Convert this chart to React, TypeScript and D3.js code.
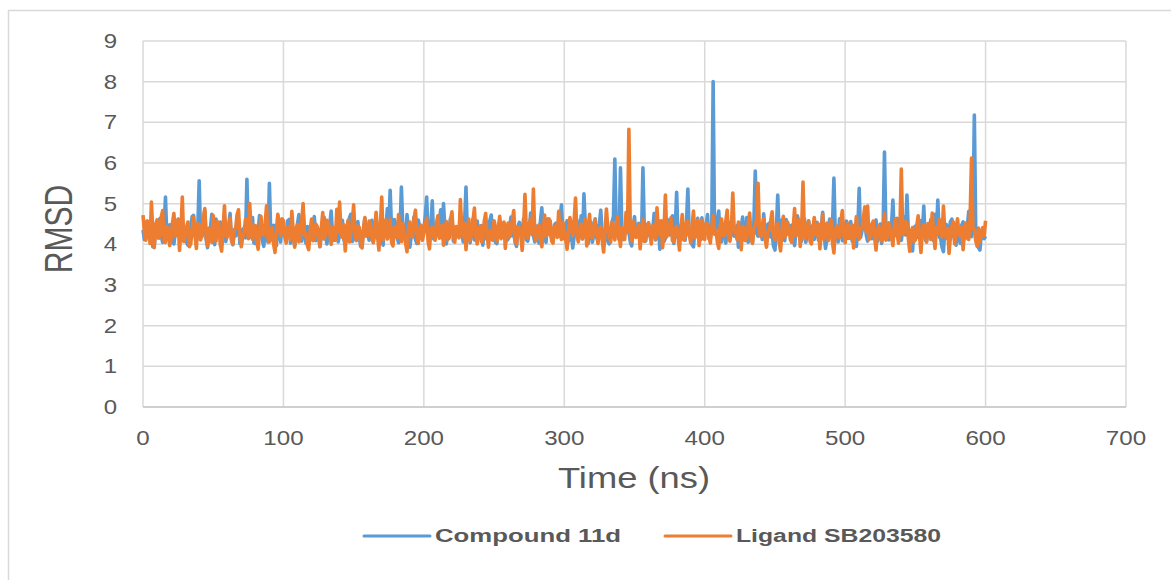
import React from "react";
import * as d3 from "d3";

// RMSD samples every 1 ns, 0..600 ns
const stepNs = 1;

const compound11d = [
  4.35, 4.12, 4.52, 4.27, 4.18, 4.46, 4.41, 3.94, 3.96, 4.33, 4.28, 4.57, 4.63, 4.2, 4.05, 4.39, 5.16, 4.14, 4.22, 4.48,
  4.47, 4.09, 4.01, 4.31, 4.36, 4.62, 4.58, 4.17, 4.12, 4.43, 4.29, 4.05, 3.98, 4.26, 4.44, 4.68, 4.71, 4.23, 4.08, 4.36,
  5.56, 4.21, 4.19, 4.53, 4.83, 4.11, 3.92, 4.3, 4.38, 4.74, 4.15, 3.99, 4.62, 4.34, 4.27, 4.55, 4.04, 4.19, 4.49, 4.07,
  4.31, 4.45, 4.76, 4.13, 3.99, 4.28, 4.21, 4.6, 4.55, 4.02, 4.09, 4.37, 4.4, 4.16, 5.6, 4.25, 4.17, 4.51, 4.66, 4.03,
  4.02, 4.39, 4.34, 4.71, 4.57, 4.1, 3.95, 4.32, 4.25, 4.06, 5.5, 4.22, 4.11, 4.47, 4.45, 3.97, 4.7, 4.29, 4.06, 4.54,
  4.39, 4.18, 4.14, 4.58, 4.61, 4.03, 4.23, 4.41, 3.97, 4.26, 4.5, 4.73, 4.3, 4.08, 4.79, 4.35, 4.03, 4.44, 4.42, 4.15,
  4.16, 4.52, 4.68, 4.09, 4.26, 4.37, 3.94, 4.21, 4.53, 4.66, 4.2, 4.01, 4.37, 4.48, 4.82, 4.19, 4.1, 4.33, 4.46, 4.06,
  4.24, 4.51, 4.59, 4.12, 4.0, 4.38, 4.33, 4.65, 4.74, 4.07, 4.13, 4.29, 4.48, 4.56, 4.19, 3.95, 3.96, 4.34, 4.64, 4.22,
  4.28, 4.1, 4.43, 4.59, 4.07, 4.31, 4.69, 4.14, 4.32, 4.49, 4.15, 3.98, 4.56, 4.4, 4.88, 4.24, 5.33, 4.36, 4.21, 4.61,
  4.51, 4.17, 4.04, 4.28, 5.41, 4.45, 4.26, 4.09, 4.73, 4.35, 3.93, 4.2, 4.4, 4.67, 4.12, 4.02, 4.6, 4.43, 4.18, 4.3,
  4.35, 4.71, 5.16, 4.22, 4.09, 4.47, 5.07, 4.13, 4.47, 4.3, 4.22, 4.58, 4.85, 4.16, 5.0, 4.37, 4.01, 4.25, 4.38, 4.64,
  4.65, 4.08, 4.14, 4.42, 4.29, 4.19, 4.8, 4.34, 4.06, 4.53, 5.41, 4.27, 4.23, 4.04, 4.44, 4.62, 4.11, 4.35, 4.57, 4.18,
  4.27, 4.46, 3.98, 4.33, 4.49, 4.12, 4.16, 4.59, 4.72, 4.25, 4.34, 4.05, 4.02, 4.38, 4.61, 4.17, 4.25, 4.52, 4.41, 4.09,
  4.13, 4.36, 4.67, 4.21, 4.3, 4.04, 3.95, 4.44, 4.54, 4.26, 4.19, 4.63, 4.38, 4.11, 4.08, 4.29, 4.77, 4.4, 4.22, 4.06,
  4.45, 4.18, 4.03, 4.57, 4.9, 4.32, 4.18, 4.05, 4.62, 4.39, 4.27, 4.14, 4.09, 4.48, 4.52, 4.2, 4.35, 4.66, 4.97, 4.24,
  4.14, 4.41, 4.58, 4.07, 4.24, 4.36, 3.91, 4.19, 4.47, 4.6, 4.11, 4.28, 4.7, 4.13, 5.24, 4.45, 4.2, 4.02, 4.36, 4.55,
  4.05, 4.27, 4.63, 4.16, 4.29, 4.5, 4.84, 4.21, 4.17, 4.34, 4.42, 4.08, 4.01, 4.39, 4.55, 4.68, 6.1, 4.31, 4.26, 4.12,
  5.88, 4.37, 4.12, 4.24, 4.49, 4.63, 4.32, 4.06, 3.96, 4.41, 4.68, 4.19, 4.21, 4.52, 4.4, 4.15, 5.88, 4.33, 4.08, 4.47,
  4.53, 4.2, 4.19, 4.35, 4.76, 4.11, 4.28, 4.58, 3.88, 4.26, 4.44, 4.07, 4.15, 4.49, 4.6, 4.23, 4.33, 4.7, 4.02, 4.38,
  5.28, 4.16, 4.25, 4.43, 4.57, 4.29, 4.1, 4.54, 5.36, 4.21, 4.38, 3.99, 3.94, 4.35, 4.47, 4.64, 4.22, 4.11, 4.65, 4.3,
  4.31, 4.48, 4.73, 4.14, 4.18, 4.36, 8.0, 4.25, 4.36, 4.59, 4.82, 4.17, 4.06, 4.41, 4.5, 4.03, 4.27, 4.55, 4.14, 4.32,
  4.59, 4.2, 4.23, 4.46, 3.93, 4.31, 4.43, 4.67, 4.11, 4.24, 4.66, 4.05, 4.3, 4.38, 4.04, 4.53, 5.8, 4.28, 4.2, 4.42,
  4.39, 4.12, 4.75, 4.26, 4.07, 4.49, 4.52, 4.18, 4.26, 3.96, 3.86, 4.35, 5.21, 4.23, 4.34, 4.6, 4.13, 4.09, 4.61, 4.37,
  4.24, 4.44, 4.47, 4.15, 3.97, 4.32, 4.7, 4.56, 4.16, 4.08, 4.41, 4.63, 4.05, 4.27, 4.58, 4.19, 4.29, 4.46, 4.12, 4.34,
  4.54, 4.1, 4.21, 4.39, 4.79, 4.25, 3.9, 4.13, 4.37, 4.62, 4.18, 4.45, 5.63, 4.22, 4.28, 4.06, 4.63, 4.4, 4.09, 4.31,
  4.42, 4.57, 4.15, 4.29, 4.56, 4.08, 4.25, 4.48, 3.95, 4.36, 5.38, 4.17, 4.33, 4.59, 4.71, 4.24, 4.08, 4.43, 4.46, 4.14,
  4.19, 4.32, 4.6, 4.07, 4.31, 4.5, 4.02, 4.26, 6.27, 4.38, 4.4, 4.11, 4.13, 4.45, 5.09, 4.21, 4.24, 4.64, 4.52, 4.16,
  4.1, 4.35, 4.67, 4.23, 5.21, 4.3, 4.28, 4.05, 3.84, 4.4, 4.45, 4.18, 4.17, 4.54, 4.58, 4.27, 4.94, 4.12, 4.06, 4.44,
  4.35, 4.61, 4.22, 4.09, 4.74, 4.3, 5.09, 4.18, 4.14, 3.93, 3.82, 4.37, 4.49, 4.15, 4.3, 4.56, 4.62, 4.24, 4.11, 3.98,
  4.38, 4.2, 4.02, 4.47, 4.55, 4.13, 4.26, 4.41, 4.81, 4.25, 4.19, 4.58, 7.18, 4.36, 4.09, 3.92, 3.86, 4.27, 4.33, 4.14,
  4.2,
];

const ligandSB203580 = [
  4.72, 4.31, 4.1, 4.58, 4.45, 4.02, 5.04, 4.26, 3.92, 4.49, 4.6, 4.15, 4.21, 4.67, 4.83, 4.08, 4.05, 4.44, 4.38, 3.97,
  4.14, 4.53, 4.76, 4.2, 4.28, 4.61, 3.85, 4.33, 5.16, 4.07, 4.19, 4.42, 4.55, 3.94, 4.02, 4.38, 4.67, 4.24, 3.9, 4.51,
  4.48, 4.11, 4.26, 4.64, 4.88, 4.17, 3.97, 4.4, 4.33, 4.05, 4.71, 4.29, 4.08, 4.56, 4.52, 4.0, 3.83, 4.35, 4.95, 4.22,
  4.18, 4.47, 4.64, 4.09, 4.01, 4.36, 4.4, 4.73, 4.85, 4.23, 3.94, 4.18, 4.3, 4.62, 4.57, 4.14, 5.0, 4.3, 4.12, 4.45,
  4.46, 4.07, 3.88, 4.34, 4.69, 4.25, 4.23, 4.52, 4.95, 4.16, 4.06, 4.39, 4.41, 4.01, 3.8, 4.27, 4.74, 4.48, 4.2, 4.63,
  4.58, 4.19, 4.03, 4.44, 4.36, 4.12, 4.81, 4.28, 3.93, 4.37, 4.49, 4.06, 4.15, 4.55, 5.0, 4.21, 4.27, 3.98, 3.87, 4.32,
  4.62, 4.09, 4.11, 4.5, 4.44, 4.17, 3.95, 4.41, 4.78, 4.13, 4.24, 4.59, 4.53, 4.26, 4.0, 4.43, 4.35, 4.1, 4.86, 4.3,
  5.04, 4.24, 4.17, 4.48, 3.84, 4.31, 4.59, 4.06, 4.29, 4.54, 4.97, 4.18, 4.09, 4.45, 4.42, 4.12, 3.91, 4.36, 4.66, 4.2,
  4.21, 4.57, 4.5, 4.14, 4.04, 4.39, 4.79, 4.22, 3.86, 4.47, 5.16, 4.11, 4.32, 4.6, 4.13, 4.29, 4.61, 4.05, 3.96, 4.42,
  4.39, 4.16, 4.73, 4.33, 4.07, 4.51, 4.25, 4.03, 3.82, 4.4, 4.55, 4.19, 4.18, 4.62, 4.84, 4.27, 4.02, 4.35, 4.47, 4.1,
  4.28, 4.49, 4.64, 4.08, 3.89, 4.37, 4.43, 4.21, 4.1, 4.53, 4.7, 4.15, 4.22, 4.46, 3.98, 4.34, 4.56, 4.12, 4.15, 4.61,
  4.8, 4.23, 4.05, 4.44, 4.37, 4.16, 5.1, 4.3, 4.19, 4.52, 3.87, 4.28, 4.62, 4.09, 4.26, 4.58, 4.89, 4.2, 4.01, 4.38,
  4.45, 4.07, 4.13, 4.56, 4.76, 4.25, 3.93, 4.31, 4.34, 4.1, 4.58, 4.42, 4.08, 4.27, 4.69, 4.14, 4.2, 4.55, 3.9, 4.35,
  4.52, 4.18, 4.27, 4.6, 4.83, 4.11, 4.0, 4.43, 4.41, 4.22, 3.85, 4.36, 5.23, 4.29, 4.16, 4.5, 4.63, 4.24, 5.36, 4.19,
  4.09, 4.41, 4.48, 4.15, 3.94, 4.32, 4.72, 4.2, 4.24, 4.63, 4.57, 4.08, 4.03, 4.45, 4.35, 4.17, 4.81, 4.26, 4.12, 4.54,
  4.39, 4.12, 3.88, 4.3, 4.66, 4.44, 4.21, 4.58, 5.14, 4.23, 4.06, 4.37, 4.5, 4.14, 4.29, 4.61, 3.96, 4.33, 4.74, 4.18,
  4.17, 4.46, 4.6, 4.21, 4.02, 4.38, 4.43, 4.1, 3.81, 4.27, 4.87, 4.4, 4.25, 4.05, 4.54, 4.31, 4.11, 4.52, 4.68, 4.22,
  3.95, 4.41, 4.33, 4.12, 4.79, 4.29, 6.83, 4.35, 4.08, 4.56, 4.46, 4.17, 4.2, 4.49, 3.89, 4.26, 4.61, 4.07, 4.14, 4.43,
  4.52, 4.24, 4.01, 4.47, 4.38, 4.13, 4.9, 4.32, 4.23, 4.58, 3.92, 4.36, 5.21, 4.19, 4.3, 4.48, 4.65, 4.09, 4.07, 4.4,
  4.44, 4.2, 3.86, 4.35, 4.73, 4.11, 4.18, 4.55, 4.56, 4.23, 4.04, 4.42, 4.82, 4.16, 4.27, 4.6, 3.97, 4.31, 4.59, 4.14,
  4.12, 4.53, 4.49, 4.19, 4.03, 4.38, 4.7, 4.27, 4.35, 4.06, 3.9, 4.45, 4.62, 4.22, 4.21, 4.57, 4.84, 4.15, 4.08, 4.39,
  5.26, 4.33, 4.31, 4.12, 4.55, 4.26, 3.87, 4.44, 4.4, 4.09, 4.16, 4.51, 4.77, 4.2, 4.02, 4.37, 4.47, 4.62, 5.5, 4.25,
  4.19, 4.48, 4.63, 4.14, 3.93, 4.3, 4.36, 4.57, 4.8, 4.23, 4.1, 4.42, 4.51, 4.06, 3.84, 4.33, 4.69, 4.18, 4.24, 4.55,
  4.42, 4.11, 4.05, 4.39, 4.88, 4.21, 4.28, 4.6, 3.95, 4.32, 5.53, 4.17, 4.14, 4.46, 4.57, 4.08, 4.01, 4.36, 4.66, 4.24,
  4.22, 4.5, 3.89, 4.27, 4.74, 4.13, 4.33, 4.52, 4.09, 4.31, 4.6, 4.04, 3.79, 4.35, 4.45, 4.19, 4.17, 4.58, 4.83, 4.26,
  4.04, 4.37, 4.51, 4.15, 4.26, 4.47, 3.91, 4.29, 4.68, 4.22, 4.13, 4.4, 4.39, 4.65, 4.92, 4.3, 4.94, 4.12, 4.2, 4.49,
  4.57, 4.16, 3.86, 4.34, 4.46, 4.23, 4.08, 4.41, 4.75, 4.1, 4.18, 4.53, 4.37, 4.2, 3.97, 4.44, 4.62, 4.28, 4.03, 4.36,
  5.85, 4.25, 4.29, 4.56, 4.53, 4.14, 3.83, 4.32, 4.41, 4.07, 4.11, 4.46, 4.7, 4.19, 3.8, 4.34, 4.48, 4.23, 4.06, 4.51,
  4.34, 4.12, 4.77, 4.3, 3.9, 4.42, 4.25, 4.61, 4.58, 4.18, 4.94, 4.27, 4.15, 4.39, 3.78, 4.21, 4.44, 4.55, 4.01, 4.33,
  4.63, 4.28, 4.2, 4.43, 3.87, 4.35, 4.52, 4.16, 4.12, 4.67, 6.12, 4.38, 4.36, 4.09, 3.95, 4.4, 4.05, 4.26, 4.41, 4.21,
  4.58,
];

const xTicks = [0, 100, 200, 300, 400, 500, 600, 700];
const yTicks = [0, 1, 2, 3, 4, 5, 6, 7, 8, 9];

const series = [
  { name: "Compound 11d", values: compound11d, color: "#5B9BD5" },
  { name: "Ligand SB203580", values: ligandSB203580, color: "#ED7D31" },
];

const W = 1171;
const H = 580;
const font = "'Liberation Sans', Arial, sans-serif";
const textColor = "#595959";
const gridColor = "#d9d9d9";

export default function App() {
  const x = d3.scaleLinear().domain([0, 700]).range([143, 1126]);
  const y = d3.scaleLinear().domain([0, 9]).range([407, 41]);

  const line = d3
    .line<number>()
    .x((_, i) => x(i * stepNs))
    .y((d) => y(d));

  return (
    <svg
      width={W}
      height={H}
      style={{ position: "absolute", left: 0, top: 0, background: "#fff" }}
    >
      <rect x={8.5} y={10.5} width={1170} height={600} fill="#fff" stroke={gridColor} strokeWidth={1.5} />

      {yTicks.map((t) => (
        <line key={"gy" + t} x1={x(0)} x2={x(700)} y1={y(t)} y2={y(t)} stroke={gridColor} strokeWidth={1.5} />
      ))}
      {xTicks.map((t) => (
        <line key={"gx" + t} x1={x(t)} x2={x(t)} y1={y(0)} y2={y(9)} stroke={gridColor} strokeWidth={1.5} />
      ))}
      <line x1={x(0)} x2={x(700)} y1={y(0)} y2={y(0)} stroke="#c8c8c8" strokeWidth={1.5} />

      {series.map((s) => (
        <path
          key={s.name}
          d={line(s.values) || ""}
          fill="none"
          stroke={s.color}
          strokeWidth={3.6}
          strokeLinejoin="round"
        />
      ))}

      {yTicks.map((t) => (
        <g key={"ly" + t} transform={`translate(117,${y(t) + 7}) scale(1.2,1)`}>
          <text textAnchor="end" fontFamily={font} fontSize={20} fill={textColor}>
            {t}
          </text>
        </g>
      ))}
      {xTicks.map((t) => (
        <g key={"lx" + t} transform={`translate(${x(t)},445) scale(1.15,1)`}>
          <text textAnchor="middle" fontFamily={font} fontSize={21} fill={textColor}>
            {t}
          </text>
        </g>
      ))}

      <text
        x={634}
        y={488}
        textAnchor="middle"
        fontFamily={font}
        fontSize={30}
        fill={textColor}
        textLength={152}
        lengthAdjust="spacingAndGlyphs"
      >
        Time (ns)
      </text>
      <g transform="translate(72,229) scale(1.3,1) rotate(-90)">
        <text textAnchor="middle" fontFamily={font} fontSize={30} fill={textColor}>
          RMSD
        </text>
      </g>

      {series.map((s, i) => {
        const lx = i === 0 ? 364 : 665;
        const tw = i === 0 ? 186 : 205;
        return (
          <g key={"lg" + s.name}>
            <line x1={lx} x2={lx + 66} y1={536} y2={536} stroke={s.color} strokeWidth={3} strokeLinecap="round" />
            <text
              x={lx + 71}
              y={542}
              fontFamily={font}
              fontSize={18}
              fontWeight="bold"
              fill={textColor}
              textLength={tw}
              lengthAdjust="spacingAndGlyphs"
            >
              {s.name}
            </text>
          </g>
        );
      })}
    </svg>
  );
}
